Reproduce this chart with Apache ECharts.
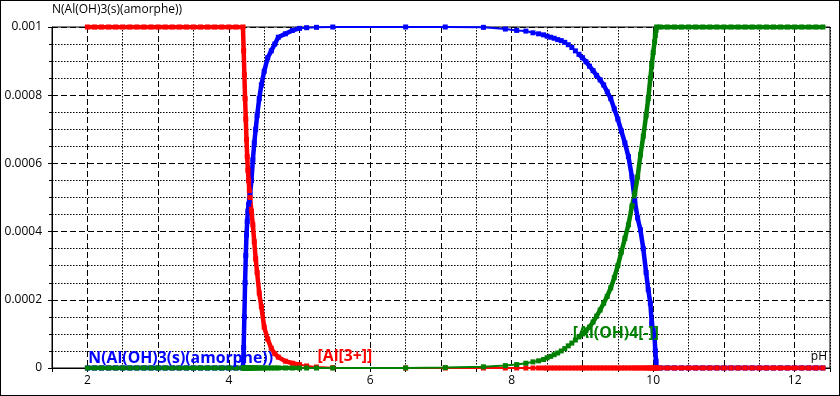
<!DOCTYPE html>
<html><head><meta charset="utf-8">
<script src="https://cdn.jsdelivr.net/npm/echarts@6/dist/echarts.min.js"></script>
<style>
html,body{margin:0;padding:0;background:#fff;}
#wrap{width:840px;height:396px;box-sizing:border-box;border:1px solid #000;}
#chart{width:838px;height:394px;}
</style></head><body><div id="wrap"><div id="chart"></div></div>
<script>
// pH sample points (shared by all species)
const pH = [
  2.0,2.1,2.2,2.3,2.4,2.5,2.6,2.7,2.8,2.9,3.0,3.1,3.2,3.3,3.4,3.5,3.6,3.7,3.8,3.9,4.0,4.1,4.2,
  4.21,4.22,4.23,4.24,4.25,4.26,4.27,4.28,4.29,4.30,4.32,4.34,4.36,4.38,4.40,4.43,4.46,4.50,4.55,4.60,4.65,4.70,4.80,4.90,5.00,
  5.10,5.24,5.47,6.50,7.06,7.60,7.91,8.07,8.20,8.30,8.38,8.45,
  8.50,8.55,8.60,8.65,8.70,8.75,8.80,8.85,8.90,8.95,9.00,9.05,9.10,9.15,9.20,9.25,9.30,9.35,9.40,9.45,9.50,9.55,9.60,
  9.65,9.70,9.74,9.78,9.82,9.86,9.90,9.93,9.96,9.98,10.00,10.02,10.03,10.04,10.05,
  10.1,10.2,10.3,10.4,10.5,10.6,10.7,10.8,10.9,11.0,11.1,11.2,11.3,11.4,11.5,11.6,11.7,11.8,11.9,12.0,12.1,12.2,12.3,12.4
];
// [Al[3+]]
const alIII = [
  0.001,0.001,0.001,0.001,0.001,0.001,0.001,0.001,0.001,0.001,0.001,0.001,0.001,0.001,0.001,0.001,0.001,0.001,0.001,0.001,0.001,0.001,0.001,
  0.00093,0.00086,0.00079,0.00073,0.00067,0.00062,0.00058,0.00055,0.00052,0.00050,0.00046,0.00042,0.00037,0.00032,0.00028,0.00022,0.00018,0.00012,0.000085,0.000058,0.000042,0.000032,0.00002,0.000014,0.00001,
  0.000006,0.000003,0.000001,0,0,0,0,0,0,0,0,0,
  0,0,0,0,0,0,0,0,0,0,0,0,0,0,0,0,0,0,0,0,0,0,0,
  0,0,0,0,0,0,0,0,0,0,0,0,0,0,0,
  0,0,0,0,0,0,0,0,0,0,0,0,0,0,0,0,0,0,0,0,0,0,0,0
];
// N(Al(OH)3(s)(amorphe))
const alOH3s = [
  0,0,0,0,0,0,0,0,0,0,0,0,0,0,0,0,0,0,0,0,0,0,0,
  0.00006,0.00015,0.00025,0.00033,0.00039,0.00043,0.00046,0.00048,0.00049,0.00051,0.00055,0.00061,0.00066,0.00070,0.00074,0.00079,0.00083,0.00087,0.00091,0.00093,0.00095,0.00097,0.00098,0.00099,0.000996,
  0.000998,0.000999,0.001,0.001,0.001,0.000999,0.000994,0.00099,0.000988,0.000983,0.00098,0.000977,
  0.000973,0.00097,0.000967,0.000963,0.00096,0.000955,0.000948,0.00094,0.00093,0.00092,0.00091,0.000898,0.000885,0.000872,0.000858,0.000845,0.00083,0.00081,0.00079,0.00076,0.00073,0.000695,0.00066,
  0.00062,0.00056,0.00049,0.00044,0.000405,0.00035,0.00028,0.00023,0.00019,0.00013,0.00011,0.00009,0.00005,0.00002,0,
  0,0,0,0,0,0,0,0,0,0,0,0,0,0,0,0,0,0,0,0,0,0,0,0
];
// [Al(OH)4[-]]
const alOH4 = [
  0,0,0,0,0,0,0,0,0,0,0,0,0,0,0,0,0,0,0,0,0,0,0,
  0,0,0,0,0,0,0,0,0,0,0,0,0,0,0,0,0,0,0,0,0,0,0,0,0,
  0,0,0,0.0000003,0.0000012,0.0000035,0.000007,0.00001,0.000014,0.000018,0.000021,0.000025,
  0.00003,0.000034,0.000039,0.000044,0.00005,0.000057,0.000065,0.000073,0.000082,0.000091,0.0001,0.00011,0.00012,0.000135,0.000152,0.00017,0.00019,0.00021,0.000235,0.000265,0.0003,0.00034,0.00038,
  0.00042,0.000475,0.000512,0.00056,0.000625,0.00068,0.00074,0.00079,0.00085,0.00089,0.000925,0.000957,0.000975,0.00099,0.001,
  0.001,0.001,0.001,0.001,0.001,0.001,0.001,0.001,0.001,0.001,0.001,0.001,0.001,0.001,0.001,0.001,0.001,0.001,0.001,0.001,0.001,0.001,0.001,0.001
];
const xTickLabels = ['2','4','6','8','10','12'];
const yTickLabels = ['0','0.0002','0.0004','0.0006','0.0008','0.001'];
const seriesNames = ['N(Al(OH)3(s)(amorphe))','[Al[3+]]','[Al(OH)4[-]]'];
const labelPH = [2.0, 5.24, 8.85];
// pH ranges where the original sampling is dense (drawn as a thick trace)
const denseRanges = [[2.0, 5.0], [8.95, 12.4]];

const FONT = 'Open Sans';
const colors = ['#0000ff','#ff0000','#008000'];
const valueSets = [alOH3s, alIII, alOH4];
const inDense = x => denseRanges.some(r => x >= r[0] - 1e-9 && x <= r[1] + 1e-9);

const series = [];
valueSets.forEach((vals, k) => {
  const li = pH.indexOf(labelPH[k]);
  series.push({
    type: 'line', name: seriesNames[k],
    data: pH.map((x, i) => [x, vals[i]]),
    symbol: 'rect', symbolSize: 5, showSymbol: true,
    lineStyle: {color: colors[k], width: 2},
    itemStyle: {color: colors[k]},
    animation: false, silent: true,
    markPoint: {
      symbol: 'rect', symbolSize: 0, silent: true, animation: false,
      data: [{coord: [labelPH[k], vals[li]]}],
      label: {show: true, formatter: seriesNames[k], position: [1, -2],
        align: 'left', verticalAlign: 'bottom', color: colors[k],
        fontWeight: 'bold', fontSize: 15.8, fontFamily: FONT}
    }
  });
  series.push({
    type: 'line', name: seriesNames[k] + ' dense',
    data: pH.map((x, i) => [x, inDense(x) ? vals[i] : '-']),
    connectNulls: false, showSymbol: false, symbol: 'none',
    lineStyle: {color: colors[k], width: 4.5, join: 'miter', cap: 'butt'},
    animation: false, silent: true
  });
});

const baseX = {type: 'value', min: 1.5, max: 12.5, interval: 0.5};
const chart = echarts.init(document.getElementById('chart'), null, {renderer: 'canvas'});
chart.setOption({
  animation: false,
  backgroundColor: '#fff',
  grid: {left: 51, top: 26, right: 9, bottom: 27, show: true, borderColor: '#000', borderWidth: 1},
  xAxis: [
    Object.assign({}, baseX, {
      position: 'bottom',
      axisLine: {show: true, onZero: false, lineStyle: {color: '#000', width: 1}},
      axisTick: {show: true, length: 4, lineStyle: {color: '#000'}},
      axisLabel: {color: '#000', fontSize: 12, fontFamily: FONT, margin: 7,
        formatter: v => xTickLabels.includes(String(v)) ? String(v) : ''},
      splitLine: {show: true, lineStyle: {color: ['#000', 'rgba(0,0,0,0)'], type: [1.5, 1.5], width: 1}},
      name: 'pH', nameLocation: 'end', nameGap: -3,
      nameTextStyle: {align: 'right', verticalAlign: 'bottom', padding: [0, 0, 5, 0], color: '#000', fontSize: 12, fontFamily: FONT}
    }),
    Object.assign({}, baseX, {
      position: 'bottom',
      axisLine: {show: false}, axisTick: {show: false}, axisLabel: {show: false},
      splitLine: {show: true, lineStyle: {color: ['rgba(0,0,0,0)', '#000'], type: [6, 3], width: 1}}
    })
  ],
  yAxis: {
    type: 'value', min: 0, max: 0.001, interval: 0.0002,
    axisLine: {show: true, lineStyle: {color: '#000'}},
    axisTick: {show: true, length: 4, lineStyle: {color: '#000'}},
    minorTick: {show: true, splitNumber: 4, length: 3, lineStyle: {color: '#000'}},
    splitLine: {show: true, lineStyle: {color: '#000', type: [6, 3], width: 1}},
    minorSplitLine: {show: true, lineStyle: {color: '#000', type: [1.5, 1.5], width: 1}},
    axisLabel: {color: '#000', fontSize: 12, fontFamily: FONT, margin: 10,
      formatter: v => yTickLabels[Math.round(v / 0.0002)]},
    name: 'N(Al(OH)3(s)(amorphe))', nameLocation: 'end', nameGap: 11,
    nameTextStyle: {align: 'left', color: '#000', fontSize: 12, fontFamily: FONT}
  },
  series: series
});
</script></body></html>
